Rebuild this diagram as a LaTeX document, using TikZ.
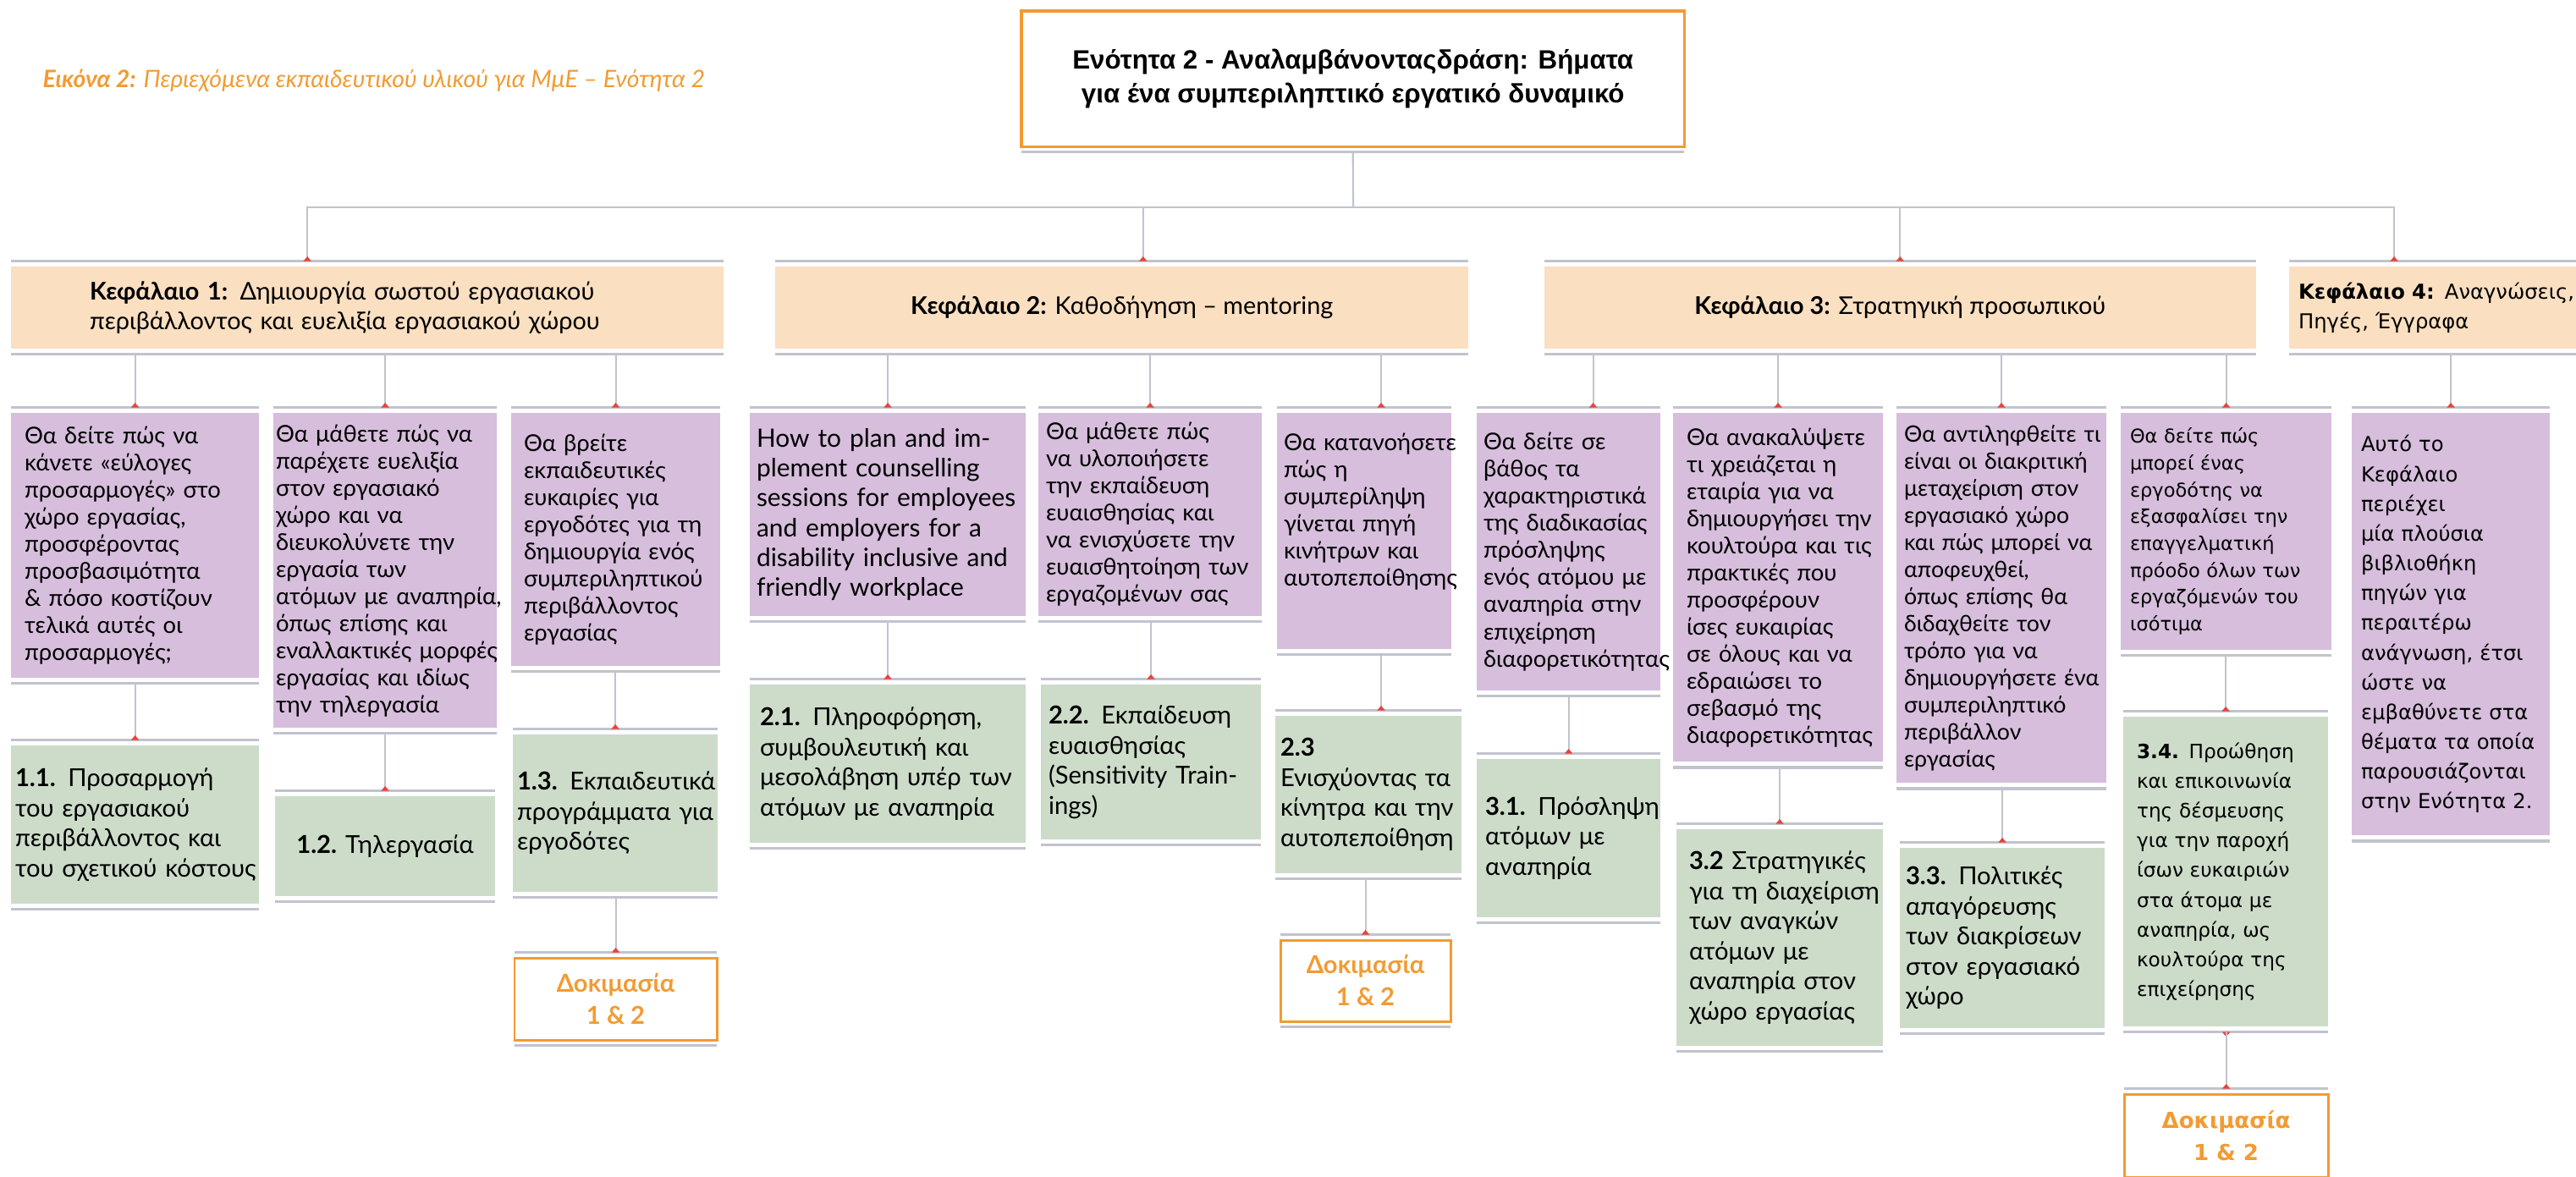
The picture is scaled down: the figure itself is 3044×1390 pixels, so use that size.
\documentclass[tikz,border=0pt]{standalone}
\usepackage{fontspec}
\setmainfont{Lato}
\newfontfamily\titlefont{Liberation Sans}
\newfontfamily\widefont{DejaVu Sans}
\usetikzlibrary{arrows.meta}
\definecolor{orng}{HTML}{F29B32}
\definecolor{peach}{HTML}{FADFC1}
\definecolor{lilac}{HTML}{D6BEDC}
\definecolor{sage}{HTML}{CCDCC9}
\definecolor{bargray}{HTML}{C1C3CD}
\definecolor{tipred}{HTML}{E8423A}
\tikzset{
    box/.style = {anchor=north west, inner ysep=0pt, outer xsep=0pt, outer ysep=0.065cm,
        execute at begin node={\hyphenpenalty=10000\rightskip=0pt minus 1cm}},
    chap/.style = {box, fill=peach, font=\fontsize{8.2}{10}\selectfont},
    info/.style = {box, fill=lilac, font=\fontsize{7.8}{9.1}\selectfont},
    unit/.style = {box, fill=sage, font=\fontsize{8.3}{10.1}\selectfont},
    quiz/.style = {box, draw=orng, line width=0.85pt, text=orng, align=center, inner xsep=0pt,
        font=\bfseries\fontsize{8.3}{10.8}\selectfont},
    bar/.style = {draw=bargray, line width=1pt},
    line/.style = {draw=bargray, line width=0.6pt},
    conn/.style = {line, -{Triangle[reversed, width=0.09cm, length=0.055cm, color=tipred, fill=tipred]}}
}

\begin{document}
\begin{tikzpicture}[x=0.01cm, y=-0.01cm]
    \useasboundingbox (0,0) rectangle (3044,1390);

    % caption and title
    \node[anchor=base west, inner sep=0pt, text=orng, font=\itshape\fontsize{8.1}{9}\selectfont] (caption) at (50,103)
        {\textbf{Εικόνα 2:} Περιεχόμενα εκπαιδευτικού υλικού για ΜμΕ – Ενότητα 2};
    \node[box, draw=orng, line width=0.9pt, fill=white, align=center, inner xsep=0pt,
        minimum width=7.83cm, minimum height=1.6cm, font=\titlefont\bfseries\fontsize{8.9}{11.4}\selectfont] (top) at (1207,6.5)
        {Ενότητα 2 - Αναλαμβάνονταςδράση: Βήματα\\για ένα συμπεριληπτικό εργατικό δυναμικό};

    % chapters
    \node[chap, text width=6.56cm, inner xsep=0.93cm, minimum height=0.97cm] (k1) at (13,308.5)
        {\textbf{Κεφάλαιο 1:} Δημιουργία σωστού εργασιακού\\περιβάλλοντος και ευελιξία εργασιακού χώρου};
    \node[chap, inner xsep=0pt, minimum width=8.19cm, minimum height=0.97cm] (k2) at (916,308.5)
        {\textbf{Κεφάλαιο 2:} Καθοδήγηση – mentoring};
    \node[chap, inner xsep=0pt, minimum width=8.40cm, minimum height=0.97cm] (k3) at (1825,308.5)
        {\textbf{Κεφάλαιο 3:} Στρατηγική προσωπικού};
    \node[chap, text width=3.33cm, inner xsep=0.11cm, minimum height=0.97cm, font=\widefont\fontsize{6.9}{10}\selectfont] (k4) at (2705,308.5)
        {\textbf{Κεφάλαιο 4:} Αναγνώσεις,\\Πηγές, Έγγραφα};

    % what the reader will learn
    \node[info, text width=2.61cm, inner xsep=0.16cm, minimum height=3.13cm] (p1a) at (13,481.5)
        {Θα δείτε πώς να\\κάνετε «εύλογες\\προσαρμογές» στο\\χώρο εργασίας,\\προσφέροντας\\προσβασιμότητα\\\& πόσο κοστίζουν\\τελικά αυτές οι\\προσαρμογές;};
    \node[info, text width=2.58cm, inner xsep=0.03cm, minimum height=3.72cm] (p1b) at (323,481.5)
        {Θα μάθετε πώς να\\παρέχετε ευελιξία\\στον εργασιακό\\χώρο και να\\διευκολύνετε την\\εργασία των\\ατόμων με αναπηρία,\\όπως επίσης και\\εναλλακτικές μορφές\\εργασίας και ιδίως\\την τηλεργασία};
    \node[info, text width=2.17cm, inner xsep=0.15cm, minimum height=2.99cm] (p1c) at (604,481.5)
        {Θα βρείτε\\εκπαιδευτικές\\ευκαιρίες για\\εργοδότες για τη\\δημιουργία ενός\\συμπεριληπτικού\\περιβάλλοντος\\εργασίας};
    \node[info, text width=3.10cm, inner xsep=0.08cm, minimum height=2.40cm, font=\fontsize{8.5}{10}\selectfont] (p2a) at (886,481.5)
        {How to plan and im-\\plement counselling\\sessions for employees\\and employers for a\\disability inclusive and\\friendly workplace};
    \node[info, text width=2.46cm, inner xsep=0.09cm, minimum height=2.40cm] (p2b) at (1227,481.5)
        {Θα μάθετε πώς\\να υλοποιήσετε\\την εκπαίδευση\\ευαισθησίας και\\να ενισχύσετε την\\ευαισθητοίηση των\\εργαζομένων σας};
    \node[info, text width=1.90cm, inner xsep=0.08cm, minimum height=2.79cm] (p2c) at (1509,481.5)
        {Θα κατανοήσετε\\πώς η\\συμπερίληψη\\γίνεται πηγή\\κινήτρων και\\αυτοπεποίθησης\\[0.18cm]\mbox{}};
    \node[info, text width=2.01cm, inner xsep=0.08cm, minimum height=3.28cm] (p3a) at (1745,481.5)
        {Θα δείτε σε\\βάθος τα\\χαρακτηριστικά\\της διαδικασίας\\πρόσληψης\\ενός ατόμου με\\αναπηρία στην\\επιχείρηση\\διαφορετικότητας};
    \node[info, text width=2.16cm, inner xsep=0.16cm, minimum height=4.12cm] (p3b) at (1977,481.5)
        {Θα ανακαλύψετε\\τι χρειάζεται η\\εταιρία για να\\δημιουργήσει την\\κουλτούρα και τις\\πρακτικές που\\προσφέρουν\\ίσες ευκαιρίας\\σε όλους και να\\εδραιώσει το\\σεβασμό της\\διαφορετικότητας};
    \node[info, text width=2.30cm, inner xsep=0.09cm, minimum height=4.37cm, font=\fontsize{7.6}{9.1}\selectfont] (p3c) at (2241,481.5)
        {Θα αντιληφθείτε τι\\είναι οι διακριτική\\μεταχείριση στον\\εργασιακό χώρο\\και πώς μπορεί να\\αποφευχθεί,\\όπως επίσης θα\\διδαχθείτε τον\\τρόπο για να\\δημιουργήσετε ένα\\συμπεριληπτικό\\περιβάλλον\\εργασίας};
    \node[info, text width=2.27cm, inner xsep=0.11cm, minimum height=2.80cm, font=\widefont\fontsize{6.4}{9}\selectfont] (p3d) at (2506,481.5)
        {Θα δείτε πώς\\μπορεί ένας\\εργοδότης να\\εξασφαλίσει την\\επαγγελματική\\πρόοδο όλων των\\εργαζόμενών του\\ισότιμα};
    \node[info, text width=2.12cm, inner xsep=0.11cm, minimum height=4.99cm, font=\widefont\fontsize{6.9}{10}\selectfont] (p4) at (2779,481.5)
        {Αυτό το\\Κεφάλαιο\\περιέχει\\μία πλούσια\\βιβλιοθήκη\\πηγών για\\περαιτέρω\\ανάγνωση, έτσι\\ώστε να\\εμβαθύνετε στα\\θέματα τα οποία\\παρουσιάζονται\\στην Ενότητα 2.};

    % units
    \node[unit, text width=2.83cm, inner xsep=0.05cm, minimum height=1.87cm] (g11) at (13,874.5)
        {\textbf{1.1.} Προσαρμογή\\του εργασιακού\\περιβάλλοντος και\\του σχετικού κόστους};
    \node[unit, inner xsep=0pt, minimum width=2.60cm, minimum height=1.18cm] (g12) at (325,934.5)
        {\textbf{1.2.} Τηλεργασία};
    \node[unit, text width=2.32cm, inner xsep=0.05cm, minimum height=1.86cm] (g13) at (606,861.5)
        {\textbf{1.3.} Εκπαιδευτικά\\προγράμματα για\\εργοδότες};
    \node[unit, text width=3.02cm, inner xsep=0.12cm, minimum height=1.87cm] (g21) at (886,802.5)
        {\textbf{2.1.} Πληροφόρηση,\\συμβουλευτική και\\μεσολάβηση υπέρ των\\ατόμων με αναπηρία};
    \node[unit, text width=2.42cm, inner xsep=0.09cm, minimum height=1.83cm] (g22) at (1230,802.5)
        {\textbf{2.2.} Εκπαίδευση\\ευαισθησίας\\(Sensitivity Train-\\ings)};
    \node[unit, text width=2.08cm, inner xsep=0.06cm, minimum height=1.86cm] (g23) at (1507,839.5)
        {\textbf{2.3}\\Ενισχύοντας τα\\κίνητρα και την\\αυτοπεποίθηση};
    \node[unit, text width=1.97cm, inner xsep=0.10cm, minimum height=1.87cm] (g31) at (1745,890.5)
        {\textbf{3.1.} Πρόσληψη\\ατόμων με\\αναπηρία};
    \node[unit, text width=2.14cm, inner xsep=0.15cm, minimum height=2.56cm] (g32) at (1981,973.5)
        {\textbf{3.2} Στρατηγικές\\για τη διαχείριση\\των αναγκών\\ατόμων με\\αναπηρία στον\\χώρο εργασίας};
    \node[unit, text width=2.28cm, inner xsep=0.07cm, minimum height=2.13cm] (g33) at (2245,995.5)
        {\textbf{3.3.} Πολιτικές\\απαγόρευσης\\των διακρίσεων\\στον εργασιακό\\χώρο};
    \node[unit, text width=2.10cm, inner xsep=0.16cm, minimum height=3.66cm, font=\widefont\fontsize{6.6}{10}\selectfont] (g34) at (2509,840.5)
        {\textbf{3.4.} Προώθηση\\και επικοινωνία\\της δέσμευσης\\για την παροχή\\ίσων ευκαιριών\\στα άτομα με\\αναπηρία, ως\\κουλτούρα της\\επιχείρησης};

    % tests
    \node[quiz, minimum width=2.39cm, minimum height=0.97cm] (d1) at (608,1125.5) {Δοκιμασία\\1 \& 2};
    \node[quiz, minimum width=2.01cm, minimum height=0.96cm] (d2) at (1513,1104.5) {Δοκιμασία\\1 \& 2};
    \node[quiz, minimum width=2.41cm, minimum height=0.98cm, font=\widefont\bfseries\fontsize{7.4}{10.8}\selectfont] (d3) at (2510,1286.5) {Δοκιμασία\\1 \& 2};

    % grey bars above and below the boxes
    \draw[bar] (top.south west) -- (top.south east);
    \foreach \n in {k1,k2,k3,k4,p1a,p1b,p1c,p2a,p2b,p2c,p3a,p3b,p3c,p3d,p4,
                    g11,g12,g13,g21,g22,g23,g31,g32,g33,g34,d1,d2,d3}
        \draw[bar] (\n.north west) -- (\n.north east) (\n.south west) -- (\n.south east);

    % connectors
    \coordinate (bus) at (1599,245);
    \coordinate (k1in) at ([xshift=3.5cm]k1.north west);
    \coordinate (k2in) at ([xshift=0.25cm]k2.north);
    \coordinate (k4in) at ([xshift=1.24cm]k4.north west);
    \coordinate (p2cin) at ([xshift=0.2cm]p2c.north);
    \coordinate (p3ain) at ([xshift=0.29cm]p3a.north);
    \coordinate (g23in) at ([xshift=0.15cm]g23.north);

    \draw[line] (top.south) -- (bus);
    \draw[conn] (bus) -| (k1in);
    \draw[conn] (bus) -| (k2in);
    \draw[conn] (bus) -| (k3.north);
    \draw[conn] (bus) -| (k4in);

    \path[conn]
        (k1.south -| p1a.north) edge (p1a.north)
        (k1.south -| p1b.north) edge (p1b.north)
        (k1.south -| p1c.north) edge (p1c.north)
        (k2.south -| p2a.north) edge (p2a.north)
        (k2.south -| p2b.north) edge (p2b.north)
        (k2.south -| p2cin) edge (p2cin)
        (k3.south -| p3ain) edge (p3ain)
        (k3.south -| p3b.north) edge (p3b.north)
        (k3.south -| p3c.north) edge (p3c.north)
        (k3.south -| p3d.north) edge (p3d.north)
        (k4.south -| p4.north) edge (p4.north)
        (p1a.south -| g11.north) edge (g11.north)
        (p1b.south -| g12.north) edge (g12.north)
        (p1c.south -| g13.north) edge (g13.north)
        (p2a.south -| g21.north) edge (g21.north)
        (p2b.south -| g22.north) edge (g22.north)
        (p2c.south -| g23in) edge (g23in)
        (p3a.south -| g31.north) edge (g31.north)
        (p3b.south -| g32.north) edge (g32.north)
        (p3c.south -| g33.north) edge (g33.north)
        (p3d.south -| g34.north) edge (g34.north)
        (g13.south -| d1.north) edge (d1.north)
        (g23.south -| d2.north) edge (d2.north)
        (g34.south -| d3.north) edge (d3.north)
    ;
\end{tikzpicture}
\end{document}
